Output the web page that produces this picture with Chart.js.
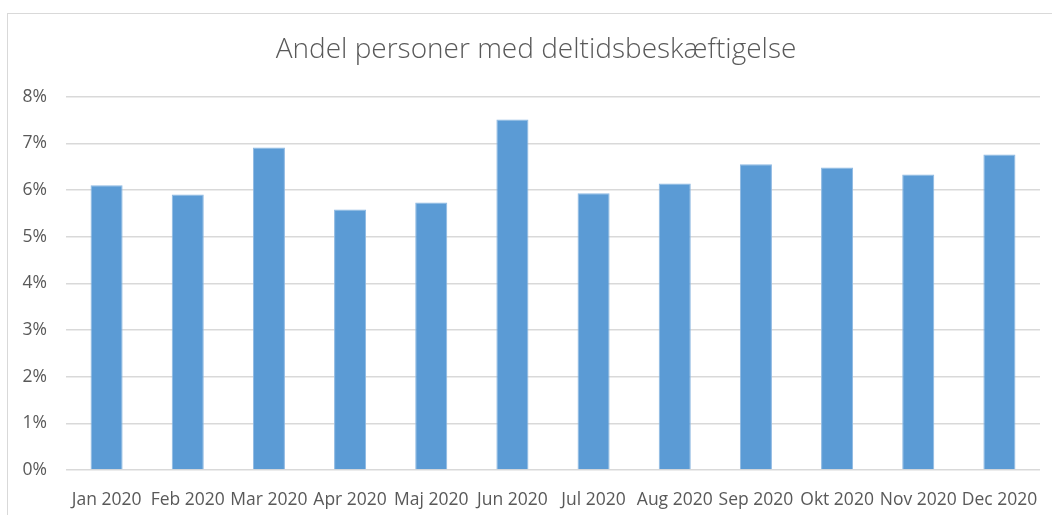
<!DOCTYPE html>
<html>
<head>
<meta charset="utf-8">
<script src="https://cdn.jsdelivr.net/npm/chart.js@4/dist/chart.umd.min.js"></script>
<style>
  html, body { margin: 0; padding: 0; background: #fff; }
  #wrap { position: relative; width: 1052px; height: 515px; overflow: hidden; }
  #frame { position: absolute; left: 7px; top: 13px; width: 1060px; height: 520px; border: 1px solid #d9d9d9; box-sizing: border-box; }
  canvas { position: absolute; left: 7px; top: 0; }
</style>
</head>
<body>
<div id="wrap">
  <div id="frame"></div>
  <canvas id="chart" width="1060" height="515"></canvas>
</div>
<script>
const months = ["Jan 2020", "Feb 2020", "Mar 2020", "Apr 2020", "Maj 2020", "Jun 2020",
  "Jul 2020", "Aug 2020", "Sep 2020", "Okt 2020", "Nov 2020", "Dec 2020"];
const shares = [6.10, 5.90, 6.91, 5.58, 5.73, 7.51, 5.93, 6.14, 6.55, 6.48, 6.33, 6.76];
const yTicks = [0, 1, 2, 3, 4, 5, 6, 7, 8];

const textColor = "#595959";
const gridColor = "#d9d9d9";

// the picture is cropped on the right, so the canvas is wider than the window.
// Title box is nudged so the title sits centred on the whole frame.
const centerTitle = {
  id: "centerTitle",
  afterLayout(chart) {
    const t = chart.titleBlock;
    if (t) t.left += 25;
  },
};

new Chart(document.getElementById("chart"), {
  type: "bar",
  data: {
    labels: months,
    datasets: [{
      label: "Andel",
      data: shares,
      backgroundColor: "#5b9bd5",
      borderColor: "#8db8e2",
      borderWidth: { top: 1, left: 1, right: 1, bottom: 0 },
      borderSkipped: "bottom",
      barPercentage: 0.395,
      categoryPercentage: 1,
    }],
  },
  plugins: [centerTitle],
  options: {
    responsive: false,
    animation: false,
    layout: { padding: { left: 0, right: 27, top: 0, bottom: 0 } },
    plugins: {
      legend: { display: false },
      tooltip: { enabled: false },
      title: {
        display: true,
        text: "Andel personer med deltidsbeskæftigelse",
        color: textColor,
        font: { family: "'Open Sans', sans-serif", size: 28, weight: 300 },
        padding: { top: 33, bottom: 30 },
      },
    },
    scales: {
      x: {
        grid: { display: false },
        border: { display: false },
        ticks: {
          color: textColor,
          font: { family: "'Open Sans', sans-serif", size: 17.5 },
          padding: 12,
          maxRotation: 0,
          autoSkip: false,
        },
        afterFit: (s) => { s.height = 45; },
      },
      y: {
        min: 0,
        max: 8,
        afterBuildTicks: (s) => { s.ticks = yTicks.map((v) => ({ value: v })); },
        grid: { color: gridColor, lineWidth: 1.5, drawTicks: false },
        border: { display: false },
        ticks: {
          color: textColor,
          font: { family: "'Open Sans', sans-serif", size: 17.5 },
          padding: 19,
          callback: (v) => v + "%",
        },
        afterFit: (s) => { s.width = 59; },
      },
    },
  },
});
</script>
</body>
</html>
